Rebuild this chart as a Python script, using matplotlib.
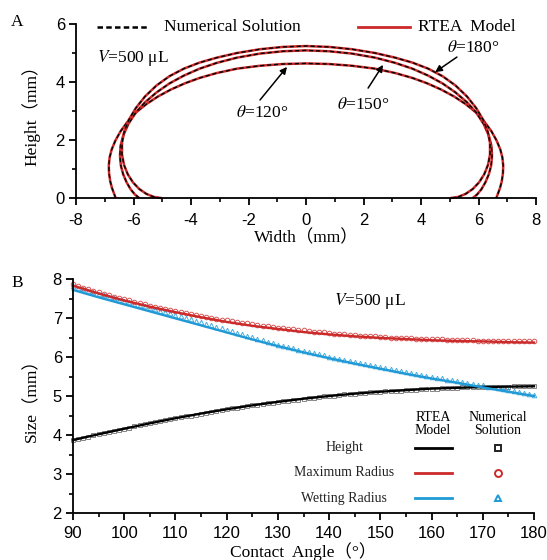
import numpy as np
import matplotlib.pyplot as plt
from matplotlib.ticker import MultipleLocator

plt.rcParams['font.family'] = ['Liberation Serif', 'Noto Sans CJK SC']
plt.rcParams['mathtext.fontset'] = 'stix'
plt.rcParams['axes.unicode_minus'] = False

RED = '#cc2a2a'
BLUE = '#1f9ad6'

# --- panel A: half drop profiles (right side), mirrored for the left side
x120 = [0.0, 0.8, 1.6, 2.4, 3.1, 3.7, 4.2, 4.7, 5.15, 5.55, 5.9, 6.2, 6.45,
        6.63, 6.76, 6.83, 6.86, 6.85, 6.81, 6.75, 6.68, 6.62]
y120 = [4.64, 4.62, 4.56, 4.46, 4.31, 4.14, 3.96, 3.74, 3.50, 3.24, 2.96, 2.64,
        2.30, 1.98, 1.67, 1.40, 1.12, 0.85, 0.58, 0.35, 0.16, 0.0]

x150 = [0.0, 0.8, 1.6, 2.4, 3.1, 3.7, 4.25, 4.75, 5.2, 5.6, 5.92, 6.18, 6.36,
        6.45, 6.47, 6.44, 6.36, 6.24, 6.1, 5.95, 5.8]
y150 = [5.09, 5.06, 4.98, 4.84, 4.66, 4.46, 4.22, 3.95, 3.64, 3.30, 2.95, 2.55,
        2.15, 1.80, 1.45, 1.12, 0.82, 0.54, 0.30, 0.12, 0.0]

x180 = [0.0, 0.8, 1.6, 2.4, 3.1, 3.7, 4.25, 4.75, 5.2, 5.6, 5.92, 6.16, 6.32,
        6.4, 6.4, 6.33, 6.2, 6.02, 5.8, 5.55, 5.3, 5.12, 5.03]
y180 = [5.24, 5.21, 5.13, 5.00, 4.84, 4.67, 4.46, 4.20, 3.88, 3.50, 3.10, 2.70,
        2.30, 1.90, 1.50, 1.14, 0.82, 0.54, 0.31, 0.14, 0.04, 0.01, 0.0]

profiles = [(x120, y120), (x150, y150), (x180, y180)]

# --- panel B: RTEA model (every 5 deg) and numerical solution (every 1 deg)
ang_model = list(range(90, 181, 5))
h_model = [3.87, 4.02, 4.16, 4.30, 4.43, 4.55, 4.66, 4.76, 4.85, 4.93, 5.00,
           5.06, 5.11, 5.15, 5.19, 5.21, 5.23, 5.24, 5.25]
rmax_model = [7.83, 7.63, 7.45, 7.29, 7.15, 7.02, 6.90, 6.80, 6.72, 6.64, 6.58,
              6.53, 6.49, 6.46, 6.43, 6.41, 6.40, 6.38, 6.37]
rw_model = [7.72, 7.53, 7.35, 7.17, 6.99, 6.81, 6.63, 6.45, 6.28, 6.12, 5.97,
            5.83, 5.70, 5.57, 5.45, 5.34, 5.22, 5.11, 5.00]

ang_num = list(range(90, 181))
h_num = [3.87, 3.90, 3.93, 3.96, 3.99, 4.02, 4.05, 4.08, 4.11, 4.13,
         4.16, 4.19, 4.22, 4.25, 4.27, 4.30, 4.33, 4.35, 4.38, 4.40,
         4.43, 4.45, 4.48, 4.50, 4.52, 4.55, 4.57, 4.59, 4.61, 4.64,
         4.66, 4.68, 4.70, 4.72, 4.74, 4.76, 4.78, 4.80, 4.81, 4.83,
         4.85, 4.87, 4.88, 4.90, 4.91, 4.93, 4.94, 4.96, 4.97, 4.99,
         5.00, 5.01, 5.02, 5.04, 5.05, 5.06, 5.07, 5.08, 5.09, 5.10,
         5.11, 5.12, 5.13, 5.13, 5.14, 5.15, 5.16, 5.16, 5.17, 5.18,
         5.19, 5.19, 5.20, 5.20, 5.21, 5.21, 5.22, 5.22, 5.22, 5.23,
         5.23, 5.23, 5.24, 5.24, 5.24, 5.24, 5.25, 5.25, 5.25, 5.25,
         5.25]
rmax_num = [7.86, 7.82, 7.78, 7.74, 7.70, 7.66, 7.62, 7.59, 7.55, 7.51,
            7.48, 7.45, 7.41, 7.38, 7.35, 7.32, 7.29, 7.26, 7.23, 7.21,
            7.18, 7.15, 7.13, 7.10, 7.08, 7.05, 7.03, 7.01, 6.98, 6.96,
            6.94, 6.92, 6.90, 6.88, 6.86, 6.84, 6.82, 6.80, 6.79, 6.77,
            6.75, 6.74, 6.72, 6.71, 6.69, 6.68, 6.66, 6.65, 6.64, 6.63,
            6.61, 6.60, 6.59, 6.58, 6.57, 6.56, 6.55, 6.54, 6.53, 6.53,
            6.52, 6.51, 6.50, 6.50, 6.49, 6.48, 6.48, 6.47, 6.47, 6.46,
            6.46, 6.45, 6.45, 6.44, 6.44, 6.44, 6.43, 6.43, 6.43, 6.42,
            6.42, 6.42, 6.42, 6.41, 6.41, 6.41, 6.41, 6.41, 6.40, 6.40,
            6.40]
rw_num = [7.82, 7.78, 7.74, 7.70, 7.66, 7.62, 7.58, 7.54, 7.51, 7.47,
          7.44, 7.40, 7.37, 7.33, 7.30, 7.26, 7.23, 7.19, 7.16, 7.12,
          7.08, 7.05, 7.01, 6.97, 6.93, 6.89, 6.85, 6.82, 6.78, 6.74,
          6.70, 6.66, 6.62, 6.59, 6.55, 6.51, 6.47, 6.43, 6.39, 6.35,
          6.31, 6.28, 6.25, 6.22, 6.19, 6.16, 6.13, 6.10, 6.07, 6.04,
          6.01, 5.98, 5.96, 5.93, 5.90, 5.87, 5.85, 5.82, 5.80, 5.77,
          5.74, 5.72, 5.69, 5.66, 5.64, 5.61, 5.59, 5.56, 5.54, 5.52,
          5.49, 5.47, 5.45, 5.42, 5.40, 5.38, 5.36, 5.33, 5.31, 5.29,
          5.27, 5.24, 5.22, 5.20, 5.17, 5.15, 5.12, 5.10, 5.08, 5.05,
          5.03]

row_labels = ['Height', 'Maximum Radius', 'Wetting Radius']


def style_axes(ax, xpad):
    for s in ['top', 'right']:
        ax.spines[s].set_visible(False)
    for s in ['left', 'bottom']:
        ax.spines[s].set_linewidth(1.3)
    ax.tick_params(which='major', direction='out', length=5, width=1.3,
                   labelsize=12)
    ax.tick_params(which='minor', direction='out', length=3, width=1.2)
    ax.tick_params(axis='x', pad=xpad)
    ax.tick_params(axis='y', pad=3)
    for lab in ax.get_xticklabels() + ax.get_yticklabels():
        lab.set_fontfamily('Liberation Sans')


fig = plt.figure(figsize=(5.47, 5.60), dpi=100)

# ---------------- panel A
axA = fig.add_axes([76 / 547, 1 - 198 / 560, 460 / 547, 174 / 560])
for xs, ys in profiles:
    xs = np.array(xs)
    ys = np.array(ys)
    xx = np.concatenate([-xs[::-1], xs[1:]])
    yy = np.concatenate([ys[::-1], ys[1:]])
    axA.plot(xx, yy, color=RED, lw=1.8, solid_capstyle='butt', clip_on=False)
    axA.plot(xx, yy, color='black', lw=1.0, dashes=(3, 2), clip_on=False)

axA.set_xlim(-8, 8)
axA.set_ylim(0, 6)
axA.xaxis.set_major_locator(MultipleLocator(2))
axA.xaxis.set_minor_locator(MultipleLocator(1))
axA.yaxis.set_major_locator(MultipleLocator(2))
axA.yaxis.set_minor_locator(MultipleLocator(1))
style_axes(axA, 6)
axA.set_xlabel('Width（mm）', fontsize=12.5)
axA.set_ylabel('Height（mm）', fontsize=12.5)
axA.xaxis.set_label_coords(0.5, -0.185)
axA.yaxis.set_label_coords(-0.078, 0.5)

# legend drawn above the curves
axA.plot([0.046, 0.154], [0.983, 0.983], transform=axA.transAxes,
         color='black', lw=1.8, dashes=(2.2, 1.3), clip_on=False)
axA.text(0.191, 0.983, 'Numerical Solution', transform=axA.transAxes,
         fontsize=12.5, va='center', ha='left')
axA.plot([0.613, 0.726], [0.983, 0.983], transform=axA.transAxes,
         color=RED, lw=2.0, clip_on=False)
axA.text(0.743, 0.983, 'RTEA  Model', transform=axA.transAxes,
         fontsize=12.5, va='center', ha='left')

axA.text(-7.27, 4.83, '$V$=500 μL', fontsize=12.5, va='center', ha='left')

arrow = dict(arrowstyle='-|>', color='black', lw=1.1, mutation_scale=10,
             shrinkA=0, shrinkB=0)
axA.text(5.81, 5.17, '$\\theta$=180°', fontsize=12.5, ha='center', va='center')
axA.annotate('', xy=(4.49, 4.34), xytext=(5.25, 4.86), arrowprops=arrow)
axA.text(1.98, 3.21, '$\\theta$=150°', fontsize=12.5, ha='center', va='center')
axA.annotate('', xy=(2.68, 4.59), xytext=(2.16, 3.79), arrowprops=arrow)
axA.text(-1.53, 2.93, '$\\theta$=120°', fontsize=12.5, ha='center', va='center')
axA.annotate('', xy=(-0.66, 4.52), xytext=(-1.6, 3.38), arrowprops=arrow)

# ---------------- panel B
axB = fig.add_axes([73 / 547, 1 - 513 / 560, 461 / 547, 234 / 560])
series = [
    (h_model, h_num, 'black', '#666666', 's'),
    (rmax_model, rmax_num, RED, RED, 'o'),
    (rw_model, rw_num, BLUE, BLUE, '^'),
]
for model, num, lc, mc, mk in series:
    axB.plot(ang_num, num, ls='none', marker=mk, ms=3.3, mfc='none',
             mec=mc, mew=0.7, alpha=0.8, clip_on=False)
for model, num, lc, mc, mk in series:
    axB.plot(ang_model, model, color=lc, lw=1.7, clip_on=False)

axB.set_xlim(90, 180)
axB.set_ylim(2, 8)
axB.xaxis.set_major_locator(MultipleLocator(10))
axB.xaxis.set_minor_locator(MultipleLocator(5))
axB.yaxis.set_major_locator(MultipleLocator(1))
axB.yaxis.set_minor_locator(MultipleLocator(0.5))
style_axes(axB, 4)
axB.set_xlabel('Contact  Angle（°）', fontsize=12.5)
axB.set_ylabel('Size（mm）', fontsize=12.5)
axB.xaxis.set_label_coords(0.5, -0.125)
axB.yaxis.set_label_coords(-0.072, 0.5)

axB.text(0.645, 0.905, '$V$=500 μL', transform=axB.transAxes,
         fontsize=12.5, ha='center', va='center')

# custom legend table
axB.text(0.781, 0.38, 'RTEA\nModel', transform=axB.transAxes, fontsize=10,
         ha='center', va='center', linespacing=0.95)
axB.text(0.922, 0.38, 'Numerical\nSolution', transform=axB.transAxes,
         fontsize=10, ha='center', va='center', linespacing=0.95)
rows_y = [0.278, 0.171, 0.064]
for (model, num, lc, mc, mk), lab, yy in zip(series, row_labels, rows_y):
    axB.text(0.588, yy, lab, transform=axB.transAxes, fontsize=10,
             ha='center', va='center', color='#222222')
    axB.plot([0.742, 0.822], [yy, yy], transform=axB.transAxes, color=lc,
             lw=2.0)
    axB.plot([0.922], [yy], transform=axB.transAxes, ls='none', marker=mk,
             ms=5.0, mfc='none', mec=lc if lc != 'black' else '#222222',
             mew=1.4)

fig.text(17 / 547, 1 - 22 / 560, 'A', fontsize=12.5, ha='center', va='center')
fig.text(17 / 547, 1 - 283 / 560, 'B', fontsize=12.5, ha='center', va='center')

fig.savefig('out.png', dpi=100)
